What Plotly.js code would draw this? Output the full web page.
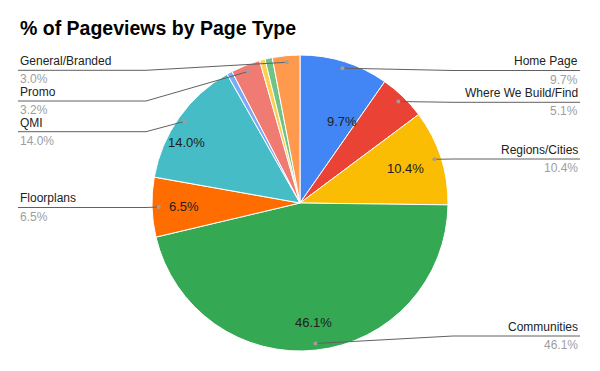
<!DOCTYPE html>
<html>
<head>
<meta charset="utf-8">
<script src="https://cdn.plot.ly/plotly-3.0.1.min.js"></script>
<style>html,body{margin:0;padding:0;background:#fff;}#chart{width:600px;height:371px;}</style>
</head>
<body>
<div id="chart"></div>
<script>
// ---- data ----
const labels = ["Home Page", "Where We Build/Find", "Regions/Cities", "Communities", "Floorplans", "QMI", "Other A", "Promo", "Other B", "Other C", "General/Branded"];
const values = [9.7, 5.1, 10.4, 46.1, 6.5, 14.0, 0.6, 3.2, 0.6, 0.8, 3.0];
const colors = ["#4285F4", "#EA4335", "#FBBC04", "#34A853", "#FF6D01", "#46BDC6", "#7BAAF7", "#F07B72", "#FCD04F", "#71C287", "#FF994D"];
// labelled slices: side and y (px) of the label underline
const outsideLabels = {
  "Home Page": {side: "right", y: 70.5},
  "Where We Build/Find": {side: "right", y: 102.3},
  "Regions/Cities": {side: "right", y: 159},
  "Communities": {side: "right", y: 336},
  "Floorplans": {side: "left", y: 207.5},
  "QMI": {side: "left", y: 131.7},
  "Promo": {side: "left", y: 101},
  "General/Branded": {side: "left", y: 70.3}
};
// inside percent labels: [radius fraction, angle offset deg]
const insideLabels = {
  "Home Page": [0.62, 10],
  "Regions/Cities": [0.75, 0],
  "Communities": [0.81, 0],
  "Floorplans": [0.785, 0],
  "QMI": [0.87, -7.5]
};

// ---- geometry ----
const W = 600, H = 371;
const CX = 300, CY = 203, R = 148;
const px = x => x / W;
const py = y => 1 - y / H;
const total = values.reduce((a, b) => a + b, 0);

const annotations = [];
const shapes = [];
let cum = 0;
values.forEach((v, i) => {
  const name = labels[i];
  const mid = (cum + v / 2) / total * 360;
  cum += v;
  const pt = (frac, deg) => {
    const t = deg * Math.PI / 180;
    return [CX + R * frac * Math.sin(t), CY - R * frac * Math.cos(t)];
  };
  const pctText = v.toFixed(1) + "%";
  if (insideLabels[name]) {
    const [f, da] = insideLabels[name];
    const [x, y] = pt(f, mid + da);
    annotations.push({x: px(x), y: py(y), xref: "paper", yref: "paper", text: pctText, showarrow: false,
      xanchor: "center", yanchor: "middle", font: {family: "Liberation Sans, Arial, sans-serif", size: 13, color: "#202020"}});
  }
  const ol = outsideLabels[name];
  if (ol) {
    const [dx, dy] = pt(0.955, mid);
    const right = ol.side === "right";
    const endX = right ? 580 : 18;
    const bendX = right ? Math.max(dx, 453) : Math.min(dx, 146);
    shapes.push({type: "path", xref: "paper", yref: "paper",
      path: `M ${px(dx)} ${py(dy)} L ${px(bendX)} ${py(ol.y)} L ${px(endX)} ${py(ol.y)}`,
      line: {color: "#616161", width: 1}});
    shapes.push({type: "circle", xref: "paper", yref: "paper",
      x0: px(dx - 2), x1: px(dx + 2), y0: py(dy + 2), y1: py(dy - 2),
      fillcolor: "#9e9e9e", line: {width: 0}});
    annotations.push({x: px(endX), y: py(ol.y - 9), xref: "paper", yref: "paper", text: name, showarrow: false,
      xanchor: right ? "right" : "left", yanchor: "middle",
      font: {family: "Liberation Sans, Arial, sans-serif", size: 12, color: "#222222"}});
    annotations.push({x: px(endX), y: py(ol.y + 9), xref: "paper", yref: "paper", text: pctText, showarrow: false,
      xanchor: right ? "right" : "left", yanchor: "middle",
      font: {family: "Liberation Sans, Arial, sans-serif", size: 12, color: "#9e9e9e"}});
  }
});

const trace = {
  type: "pie",
  labels: labels,
  values: values,
  sort: false,
  direction: "clockwise",
  rotation: 0,
  textinfo: "none",
  hoverinfo: "label+percent",
  marker: {colors: colors, line: {color: "#ffffff", width: 1}},
  domain: {x: [(CX - R) / W, (CX + R) / W], y: [1 - (CY + R) / H, 1 - (CY - R) / H]},
  showlegend: false
};

const layout = {
  width: W, height: H,
  margin: {l: 0, r: 0, t: 0, b: 0},
  paper_bgcolor: "#ffffff",
  title: {text: "% of Pageviews by Page Type", x: 20 / W, xanchor: "left", xref: "paper",
    y: 1 - 28 / H, yref: "container", yanchor: "middle",
    font: {family: "Liberation Sans, Arial, sans-serif", size: 19.5, color: "#000000", weight: "bold"}},
  showlegend: false,
  annotations: annotations,
  shapes: shapes
};

Plotly.newPlot("chart", [trace], layout, {displayModeBar: false, staticPlot: true});
</script>
</body>
</html>
